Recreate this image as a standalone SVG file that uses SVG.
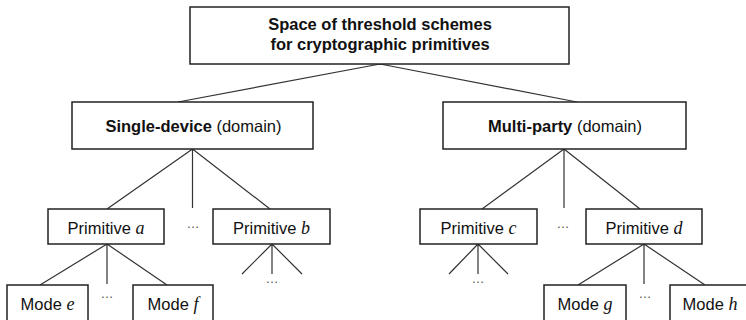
<svg xmlns="http://www.w3.org/2000/svg" width="746" height="320" viewBox="0 0 746 320">
  <style>
    .box { fill: #fff; stroke: #222; stroke-width: 1.5; }
    .edge { fill: none; stroke: #333; stroke-width: 1.2; }
    .lbl { font-family: "Liberation Sans", Arial, sans-serif; font-size: 16.5px; fill: #111; text-anchor: middle; }
    .bold { font-weight: bold; }
    .var { font-family: "Liberation Serif", "Times New Roman", serif; font-style: italic; font-size: 18px; }
    .dots { font-family: "Liberation Sans", Arial, sans-serif; font-size: 13px; fill: #555; text-anchor: middle; }
  </style>
  <rect width="746" height="320" fill="#fff"/>

  <!-- connectors -->
  <g id="connectors">
    <path class="edge" d="M380,64 L178,102 M380,64 L577,102"/>
    <path class="edge" d="M192.5,149 L107,209 M192.5,149 L192.5,208 M192.5,149 L270,209"/>
    <path class="edge" d="M564,149 L482,209 M564,149 L564,208 M564,149 L640,209"/>
    <path class="edge" d="M107,244 L40,285 M107,244 L107,284 M107,244 L167,285"/>
    <path class="edge" d="M272,244 L242,274 M272,244 L272,274 M272,244 L302,274"/>
    <path class="edge" d="M478,244 L449,274 M478,244 L478,274 M478,244 L508,274"/>
    <path class="edge" d="M644,244 L578,285 M644,244 L644,284 M644,244 L705,285"/>
  </g>

  <!-- elided siblings -->
  <g id="ellipses">
    <text class="dots" x="193" y="228">…</text>
    <text class="dots" x="563" y="228">…</text>
    <text class="dots" x="107" y="298">…</text>
    <text class="dots" x="272" y="283">…</text>
    <text class="dots" x="478" y="283">…</text>
    <text class="dots" x="645" y="298">…</text>
  </g>

  <g id="root">
    <rect class="box" x="190" y="7" width="379" height="57"/>
    <text class="lbl bold" x="380" y="30">Space of threshold schemes</text>
    <text class="lbl bold" x="380" y="50">for cryptographic primitives</text>
  </g>

  <g id="single-device">
    <rect class="box" x="72" y="102" width="241" height="47"/>
    <text class="lbl" x="193.5" y="132"><tspan class="bold">Single-device</tspan> (domain)</text>
  </g>

  <g id="multi-party">
    <rect class="box" x="443" y="102" width="243" height="47"/>
    <text class="lbl" x="565" y="132"><tspan class="bold">Multi-party</tspan> (domain)</text>
  </g>

  <g id="primitive-a">
    <rect class="box" x="48" y="209" width="116" height="35"/>
    <text class="lbl" x="106" y="234">Primitive <tspan class="var">a</tspan></text>
  </g>

  <g id="primitive-b">
    <rect class="box" x="213" y="209" width="117" height="35"/>
    <text class="lbl" x="271.5" y="234">Primitive <tspan class="var">b</tspan></text>
  </g>

  <g id="primitive-c">
    <rect class="box" x="420" y="209" width="117" height="35"/>
    <text class="lbl" x="478.5" y="234">Primitive <tspan class="var">c</tspan></text>
  </g>

  <g id="primitive-d">
    <rect class="box" x="586" y="209" width="116" height="35"/>
    <text class="lbl" x="644" y="234">Primitive <tspan class="var">d</tspan></text>
  </g>

  <g id="mode-e">
    <rect class="box" x="7" y="285" width="81" height="40"/>
    <text class="lbl" x="47.5" y="310">Mode <tspan class="var">e</tspan></text>
  </g>

  <g id="mode-f">
    <rect class="box" x="133" y="285" width="80" height="40"/>
    <text class="lbl" x="173" y="310">Mode <tspan class="var">f</tspan></text>
  </g>

  <g id="mode-g">
    <rect class="box" x="544" y="285" width="82" height="40"/>
    <text class="lbl" x="585" y="310">Mode <tspan class="var">g</tspan></text>
  </g>

  <g id="mode-h">
    <rect class="box" x="670" y="285" width="82" height="40"/>
    <text class="lbl" x="710" y="310">Mode <tspan class="var">h</tspan></text>
  </g>
</svg>
